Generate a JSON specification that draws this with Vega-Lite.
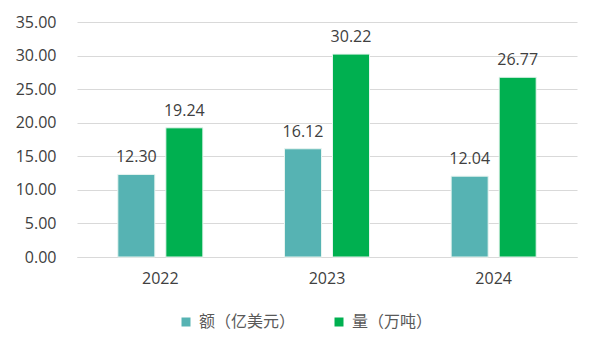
{
  "$schema": "https://vega.github.io/schema/vega-lite/v6.json",
  "width": 500,
  "height": 235,
  "autosize": "none",
  "padding": {"left": 77, "top": 22, "right": 23, "bottom": 95},
  "background": "white",
  "config": {
    "view": {"stroke": null},
    "font": "Open Sans",
    "axis": {"labelColor": "#404040", "labelFontSize": 16, "gridColor": "#D9D9D9", "domainColor": "#D9D9D9", "tickColor": "#D9D9D9"}
  },
  "data": {
    "values": [
      {"year": "2022", "series": "额（亿美元）", "value": 12.30},
      {"year": "2022", "series": "量（万吨）", "value": 19.24},
      {"year": "2023", "series": "额（亿美元）", "value": 16.12},
      {"year": "2023", "series": "量（万吨）", "value": 30.22},
      {"year": "2024", "series": "额（亿美元）", "value": 12.04},
      {"year": "2024", "series": "量（万吨）", "value": 26.77}
    ]
  },
  "encoding": {
    "x": {
      "field": "year", "type": "nominal",
      "scale": {"paddingInner": 0, "paddingOuter": 0},
      "axis": {"title": null, "labelAngle": 0, "ticks": false, "domain": true, "labelPadding": 13}
    },
    "xOffset": {
      "field": "series", "type": "nominal",
      "scale": {"domain": ["额（亿美元）", "量（万吨）"], "paddingInner": 0.229, "paddingOuter": 0.85}
    },
    "y": {
      "field": "value", "type": "quantitative",
      "scale": {"domain": [0, 35], "nice": false},
      "axis": {"title": null, "values": [0, 5, 10, 15, 20, 25, 30, 35], "format": ".2f", "domain": false, "ticks": false, "labelPadding": 21, "gridWidth": 1}
    },
    "color": {
      "field": "series", "type": "nominal",
      "scale": {"domain": ["额（亿美元）", "量（万吨）"], "range": ["#56B3B3", "#00B050"]},
      "legend": {
        "title": null, "orient": "none", "direction": "horizontal",
        "legendX": 101, "legendY": 292,
        "symbolType": "square", "symbolSize": 81, "symbolStrokeWidth": 0,
        "labelFont": "Noto Sans CJK SC", "labelFontSize": 16, "labelColor": "#595959",
        "labelOffset": 5, "columnPadding": 35
      }
    }
  },
  "layer": [
    {"mark": {"type": "bar", "stroke": "#E8F5F0", "strokeWidth": 1}},
    {
      "mark": {"type": "text", "dy": -17, "fontSize": 16, "font": "Open Sans"},
      "encoding": {"text": {"field": "value", "type": "quantitative", "format": ".2f"}, "color": {"value": "#404040"}}
    }
  ]
}
